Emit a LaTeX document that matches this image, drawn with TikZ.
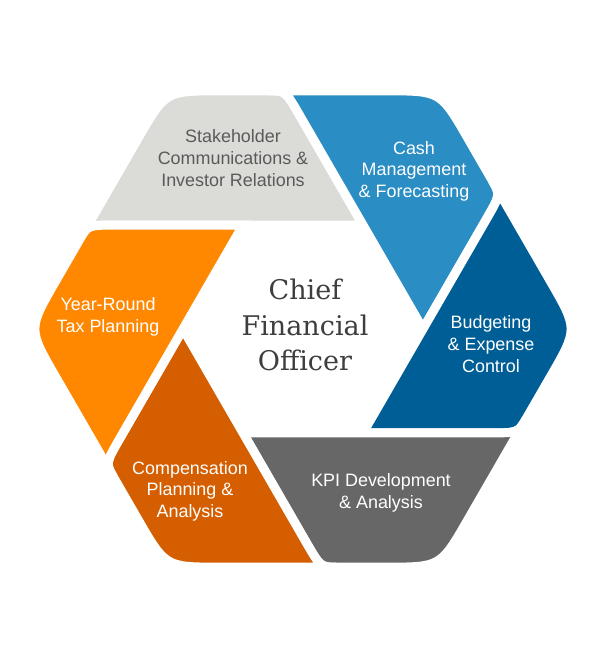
\documentclass[tikz,border=0pt]{standalone}
\usepackage{fontspec}
\setmainfont{Liberation Sans}
\newfontfamily\slabfont{DejaVu Serif}
\usetikzlibrary{calc}

\definecolor{segGray}{HTML}{DBDBD7}
\definecolor{segBlue}{HTML}{2A8DC4}
\definecolor{segNavy}{HTML}{005E96}
\definecolor{segKpi}{HTML}{676767}
\definecolor{segRust}{HTML}{D45E00}
\definecolor{segOrange}{HTML}{FF8800}
\definecolor{grayText}{HTML}{5A5A5A}
\definecolor{cfoText}{HTML}{3E3E3E}

\begin{document}
\begin{tikzpicture}[
        x=0.02cm, y=0.02cm,
        seg/.style={fill=#1, draw=white, line width=0.18cm},
        txt/.style={font=\fontsize{10.2}{12.3}\selectfont, align=center, text=white, inner sep=0pt},
        ctr/.style={font=\slabfont\fontsize{15.4}{20}\selectfont, align=center, text=cfoText, inner sep=0pt}
    ]
        \useasboundingbox (-303,-322) rectangle (302,329);
        % six pieces of the hexagon, one per outer corner
        \foreach \a/\col in {120/segGray, 60/segBlue, 0/segNavy, -60/segKpi, -120/segRust, 180/segOrange} {
            \coordinate (V) at (\a:275);
            \coordinate (Vn) at (\a+60:275);
            \coordinate (B) at (\a-25.8:238.8);
            \coordinate (D) at (\a+34.2:238.8);
            \coordinate (I) at (\a-60:120);
            \path[seg=\col] (I) -- ($(B)!0.6cm!(I)$) .. controls (B) .. ($(B)!0.32cm!(V)$)
                -- ($(V)!1.1cm!(B)$) .. controls (V) .. ($(V)!1.1cm!(D)$)
                -- ($(D)!0.32cm!(Vn)$) .. controls (D) .. ($(D)!0.6cm!(I)$) -- cycle;
        }
        \node[txt, text=grayText] (stake) at (-70, 171) {Stakeholder\\Communications \&\\Investor Relations};
        \node[txt] (cash) at (111, 158) {Cash\\Management\\\& Forecasting};
        \node[txt] (budget) at (188, -15) {Budgeting\\\& Expense\\Control};
        \node[txt] (kpi) at (78, -164) {KPI Development\\\& Analysis};
        \node[txt] (comp) at (-113, -162) {Compensation\\Planning \&\\Analysis};
        \node[txt] (tax) at (-195, 12) {Year-Round\\Tax Planning};
        \node[ctr] (cfo) at (2, 4) {Chief\\Financial\\Officer};
    \end{tikzpicture}
\end{document}
